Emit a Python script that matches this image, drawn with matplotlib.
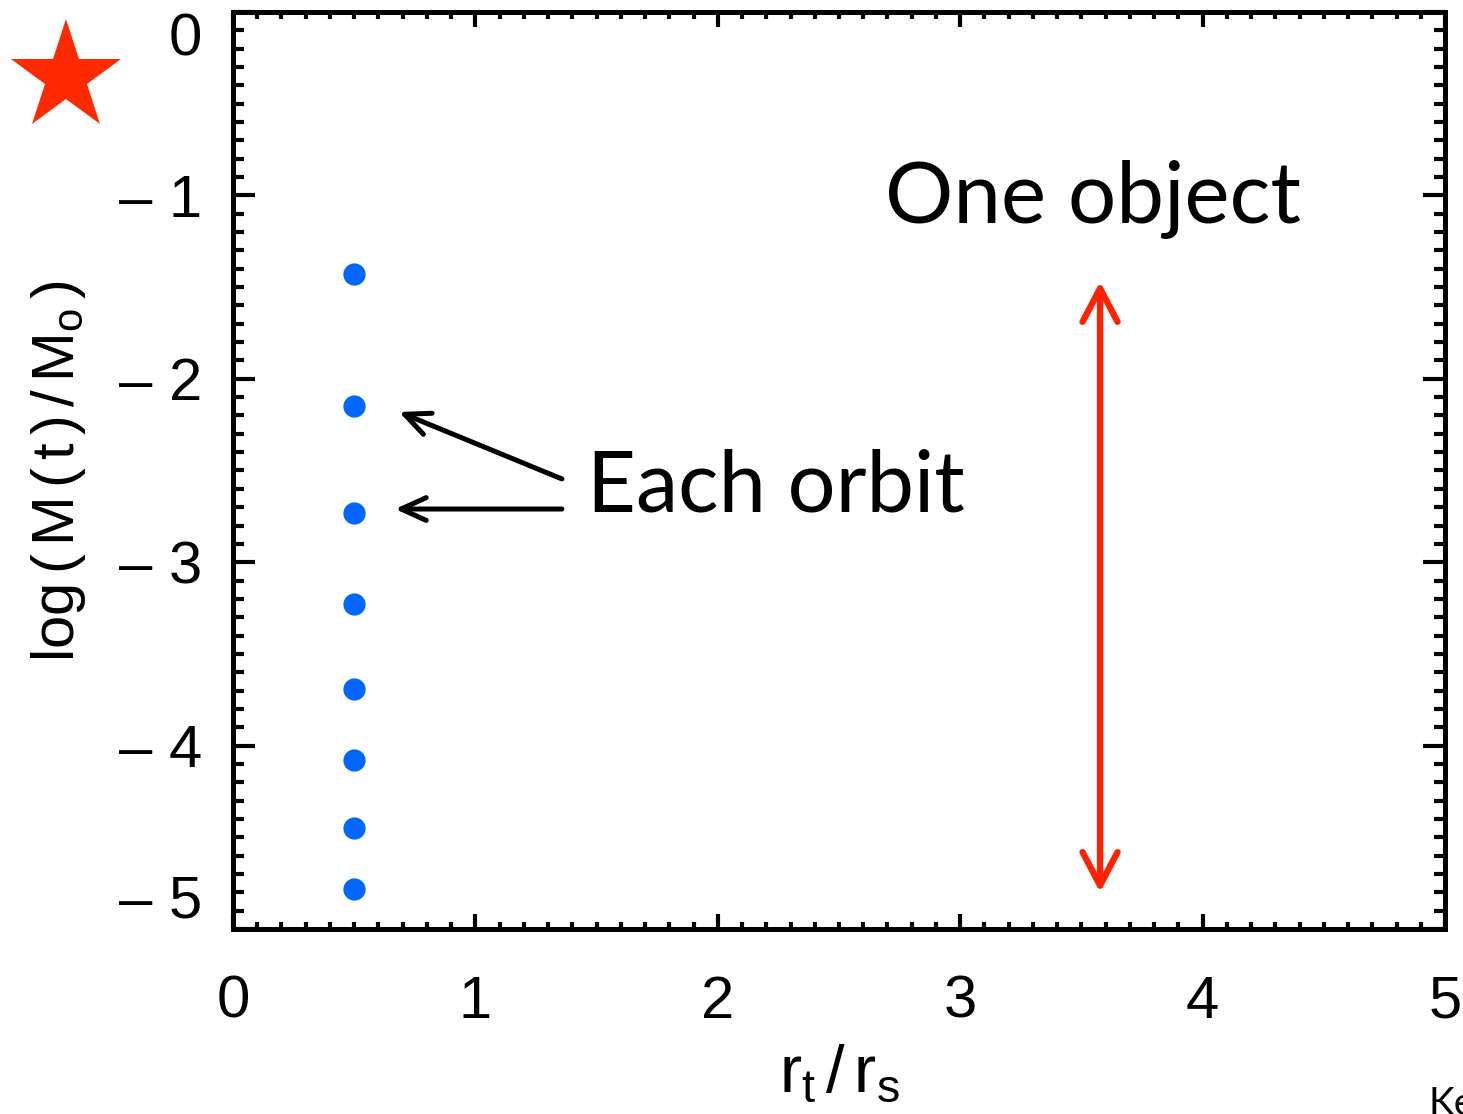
import matplotlib.pyplot as plt
from matplotlib.ticker import MultipleLocator, FixedLocator, FixedFormatter

# blue points: one per orbit, all at the same r_t/r_s
orbit_rt = [0.5, 0.5, 0.5, 0.5, 0.5, 0.5, 0.5, 0.5]
orbit_logm = [-1.43, -2.15, -2.73, -3.23, -3.69, -4.08, -4.45, -4.78]

# red double arrow ("One object")
span_x = 3.577
span_y = [-1.47, -4.80]

# black arrows from "Each orbit"
tails = [(1.357, -2.546), (1.357, -2.71)]
heads = [(0.685, -2.181), (0.669, -2.71)]

xticks = [0, 1, 2, 3, 4, 5]
xticklabels = ['0', '1', '2', '3', '4', '5']
yticks = [0, -1, -2, -3, -4, -5]
yticklabels = ['0', '\u2013 1', '\u2013 2', '\u2013 3', '\u2013 4', '\u2013 5']

plt.rcParams['font.family'] = ['Liberation Sans', 'DejaVu Sans']
plt.rcParams['mathtext.fontset'] = 'custom'
plt.rcParams['mathtext.rm'] = 'Liberation Sans'
plt.rcParams['mathtext.it'] = 'Liberation Sans'

fig = plt.figure(figsize=(14.63, 11.14), dpi=100)
ax = fig.add_axes([233/1463, 1 - 929/1114, 1212/1463, 917/1114])

ax.plot(orbit_rt, orbit_logm, 'o', color='#0066ff', markersize=16, markeredgewidth=0)

ax.annotate('', xy=(span_x, span_y[0]), xytext=(span_x, span_y[1]),
            arrowprops=dict(arrowstyle='<->,head_length=0.8,head_width=0.42',
                            mutation_scale=30, color='#ff2200', lw=4.6,
                            shrinkA=0, shrinkB=0, capstyle='round'))
for t, h in zip(tails, heads):
    ax.annotate('', xy=h, xytext=t,
                arrowprops=dict(arrowstyle='->,head_length=0.9,head_width=0.41',
                                mutation_scale=20, color='black', lw=3.6,
                                shrinkA=0, shrinkB=0))

ax.text(1.462, -2.726, 'Each orbit', family='Lato', fontsize=61, va='baseline', ha='left')
ax.text(2.690, -1.145, 'One object', family='Lato', fontsize=61.5, va='baseline', ha='left')

ax.set_xlim(0, 5)
ax.set_ylim(-5, 0)
ax.xaxis.set_major_locator(FixedLocator(xticks))
ax.xaxis.set_major_formatter(FixedFormatter(xticklabels))
ax.yaxis.set_major_locator(FixedLocator(yticks))
ax.yaxis.set_major_formatter(FixedFormatter(yticklabels))
ax.xaxis.set_minor_locator(MultipleLocator(0.1))
ax.yaxis.set_minor_locator(MultipleLocator(0.1))

ax.tick_params(which='both', direction='in', top=True, right=True, width=3, labelsize=43)
ax.tick_params(axis='x', which='major', length=11, pad=33)
ax.tick_params(axis='x', which='minor', length=5)
ax.tick_params(axis='y', which='major', length=16, pad=22)
ax.tick_params(axis='y', which='minor', length=8)
for s in ax.spines.values():
    s.set_linewidth(3.6)

labs = ax.get_yticklabels()
labs[0].set_va('top')
labs[-1].set_va('bottom')

ax.set_xlabel(r'r$_{\rm t}$$\,$/$\,$r$_{\rm s}$', fontsize=48)
ax.xaxis.set_label_coords(0.5, -0.125)
ax.set_ylabel(r'log$\,$($\,$M$\,$($\,$t$\,$)$\,$/$\,$M$_{\rm o}$$\,$)', fontsize=43)
ax.yaxis.set_label_coords(-0.12, 0.5)

# red star in the upper left corner
fig.add_artist(plt.Line2D([66/1463], [1 - 77/1114], marker='*', markersize=84,
                          color='#ff2a00', markeredgewidth=0, linestyle='none'))

fig.text(1428/1463, 1 - 1086/1114, 'Ke', family='Lato', fontsize=28, va='top', ha='left')

fig.savefig('out.png', dpi=100)
